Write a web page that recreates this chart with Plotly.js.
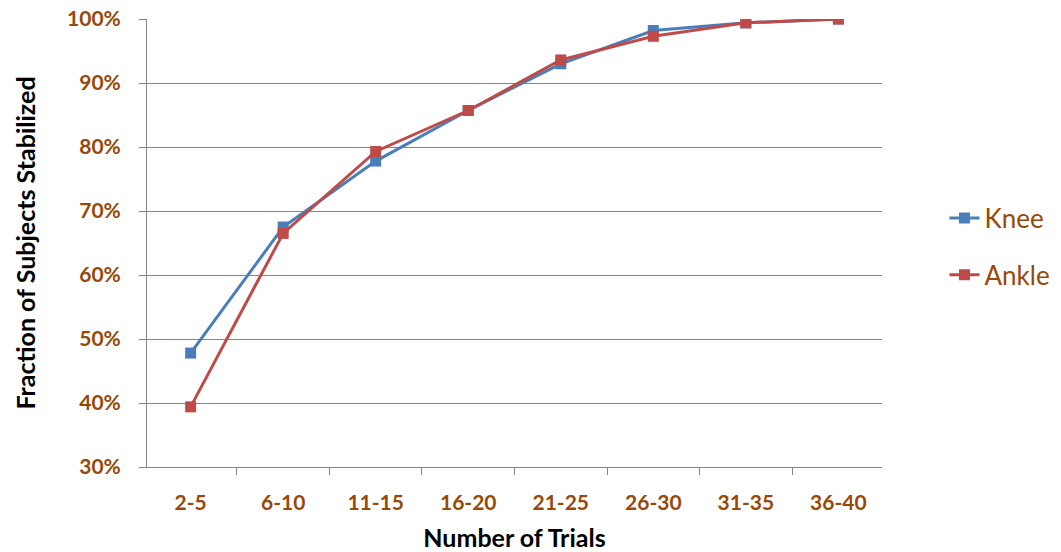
<!DOCTYPE html>
<html><head><meta charset="utf-8">
<script src="https://cdn.plot.ly/plotly-3.0.1.min.js"></script>
<style>html,body{margin:0;padding:0;background:#fff}#chart{width:1061px;height:552px}</style>
</head><body><div id="chart"></div>
<script>
var categories = ["2-5","6-10","11-15","16-20","21-25","26-30","31-35","36-40"];
var knee  = [0.478, 0.675, 0.778, 0.857, 0.930, 0.982, 0.994, 1.000];
var ankle = [0.394, 0.665, 0.793, 0.857, 0.936, 0.973, 0.994, 1.000];
var yTicks = [0.3,0.4,0.5,0.6,0.7,0.8,0.9,1.0];

var brown = "#984807";
var fontFam = "Lato, 'Open Sans', sans-serif";

var traces = [
  {x: categories, y: knee, name: "Knee", type: "scatter", mode: "lines+markers",
   legendgroup: "a",
   line: {color: "#4a7ebb", width: 3}, marker: {symbol: "square", size: 11, color: "#4a7ebb"}},
  {x: categories, y: ankle, name: "Ankle", type: "scatter", mode: "lines+markers",
   legendgroup: "b",
   line: {color: "#be4b48", width: 3}, marker: {symbol: "square", size: 11, color: "#be4b48"}}
];

var layout = {
  width: 1061, height: 552,
  margin: {l: 147, r: 179, t: 19, b: 85, autoexpand: false},
  paper_bgcolor: "#fff", plot_bgcolor: "#fff",
  showlegend: true,
  legend: {x: 1.085, y: 0.492, xanchor: "left", yanchor: "middle",
           font: {family: fontFam, size: 26, color: brown},
           tracegroupgap: 20, itemwidth: 30},
  xaxis: {
    type: "category", tickson: "boundaries", ticks: "outside", ticklen: 7, tickcolor: "#868686",
    showline: true, linecolor: "#868686", linewidth: 1, showgrid: false, zeroline: false,
    tickfont: {family: fontFam, size: 21, color: brown, weight: "bold"},
    ticklabelstandoff: 17,
    title: {text: "Number of Trials", font: {family: fontFam, size: 25, color: "#000", weight: "bold"}, standoff: 16}
  },
  yaxis: {
    range: [0.3, 1.0], tickvals: yTicks, tickformat: ".0%",
    ticks: "outside", ticklen: 7, tickcolor: "#868686",
    showline: true, linecolor: "#868686", linewidth: 1,
    showgrid: true, gridcolor: "#868686", gridwidth: 1, zeroline: false,
    tickfont: {family: fontFam, size: 21, color: brown, weight: "bold"},
    ticklabelstandoff: 14,
    title: {text: "Fraction of Subjects Stabilized", font: {family: fontFam, size: 25, color: "#000", weight: "bold"}, standoff: 24}
  }
};
Plotly.newPlot("chart", traces, layout, {displayModeBar: false, staticPlot: true});
</script></body></html>
